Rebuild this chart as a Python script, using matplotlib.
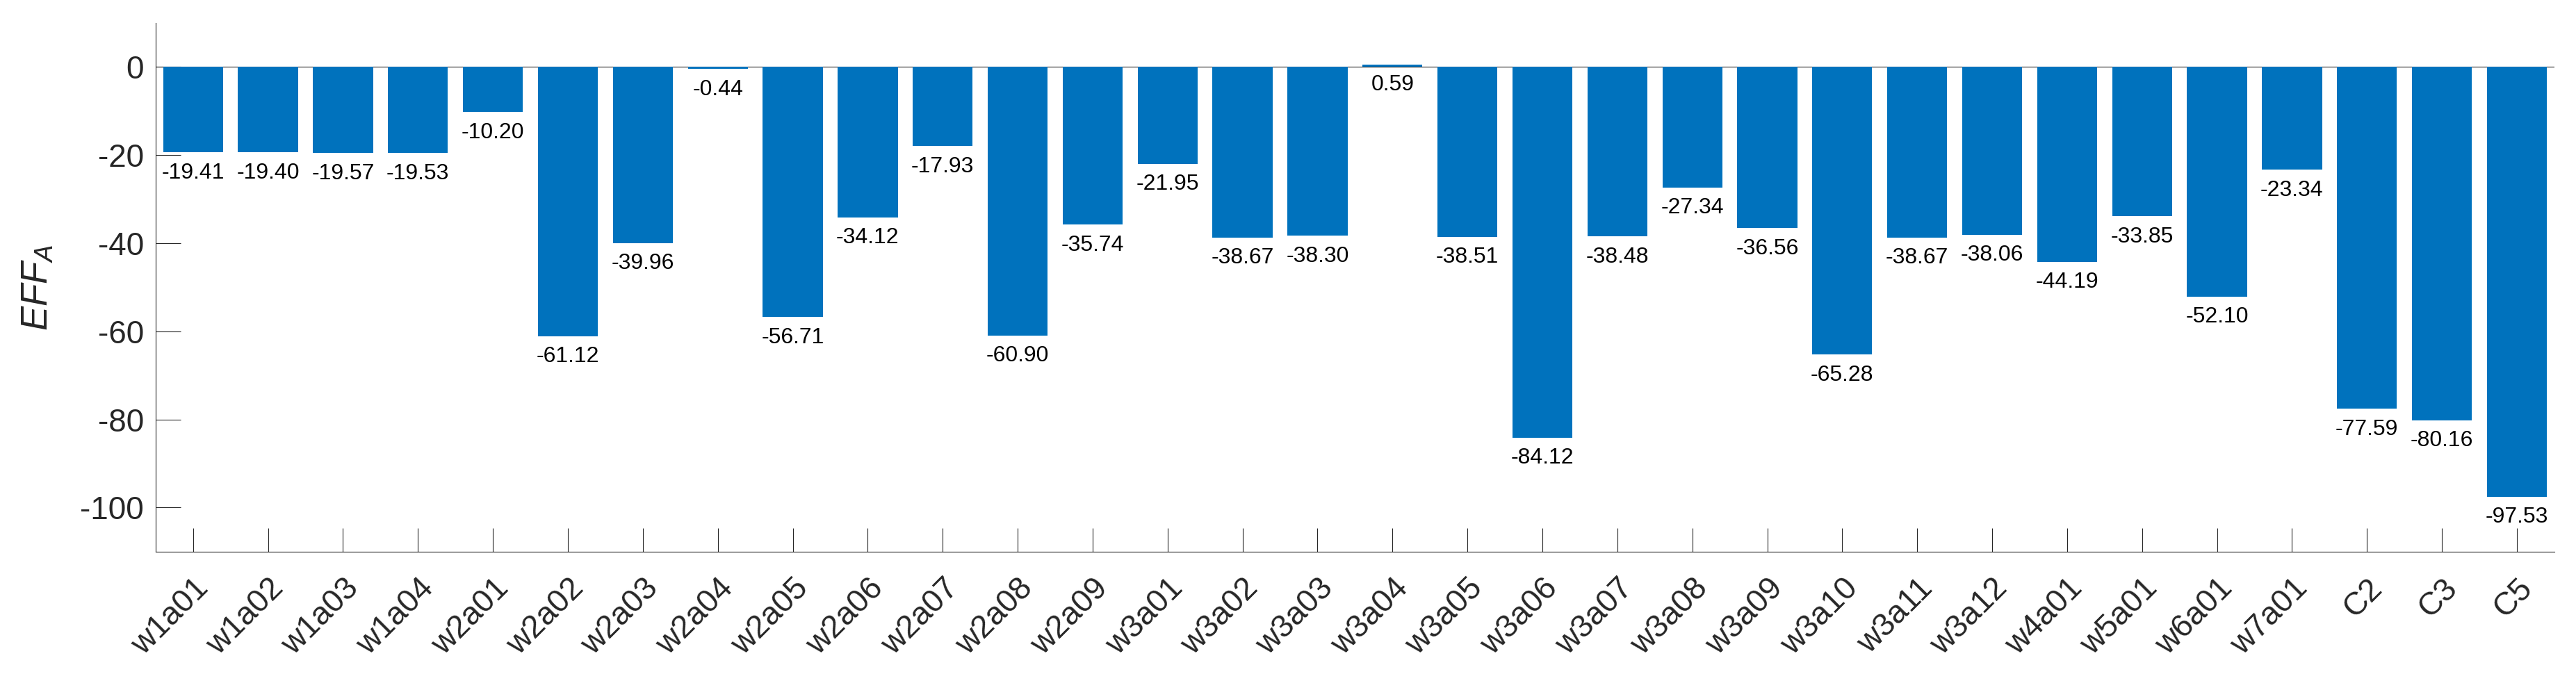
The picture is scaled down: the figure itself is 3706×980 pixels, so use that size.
import numpy as np
import matplotlib
matplotlib.use("Agg")
import matplotlib.pyplot as plt

plt.rcParams['font.family'] = ['Liberation Sans', 'DejaVu Sans']
plt.rcParams['mathtext.fontset'] = 'custom'
plt.rcParams['mathtext.it'] = 'Liberation Sans:italic'
plt.rcParams['mathtext.rm'] = 'Liberation Sans'

categories = ["w1a01", "w1a02", "w1a03", "w1a04",
              "w2a01", "w2a02", "w2a03", "w2a04", "w2a05", "w2a06", "w2a07", "w2a08", "w2a09",
              "w3a01", "w3a02", "w3a03", "w3a04", "w3a05", "w3a06", "w3a07", "w3a08",
              "w3a09", "w3a10", "w3a11", "w3a12",
              "w4a01", "w5a01", "w6a01", "w7a01", "C2", "C3", "C5"]
eff_a = [-19.41, -19.40, -19.57, -19.53,
         -10.20, -61.12, -39.96, -0.44, -56.71, -34.12, -17.93, -60.90, -35.74,
         -21.95, -38.67, -38.30, 0.59, -38.51, -84.12, -38.48, -27.34,
         -36.56, -65.28, -38.67, -38.06,
         -44.19, -33.85, -52.10, -23.34, -77.59, -80.16, -97.53]
yticks = [-100, -80, -60, -40, -20, 0]

axc = '#262626'

fig = plt.figure(figsize=(37.06, 9.8), dpi=100)
ax = fig.add_axes([0.0604, 0.190, 0.9312, 0.7763])

x = np.arange(len(categories))
ax.axhline(0, color=axc, lw=0.8, zorder=1)
ax.bar(x, eff_a, width=0.8, color='#0072BD', zorder=2)

# value labels, placed just under the bar end (MATLAB style)
for xi, v in zip(x, eff_a):
    ax.text(xi, v - 2.3, f"{v:.2f}", ha='center', va='top', fontsize=23, color='black')

ax.set_xlim(-0.5, len(categories) - 0.5)
ax.set_ylim(-110, 10)
ax.set_yticks(yticks)
ax.set_yticklabels([str(t) for t in yticks])
ax.set_xticks(x)
ax.set_xticklabels(categories, rotation=45, ha='right', rotation_mode='anchor')

for s in ['top', 'right']:
    ax.spines[s].set_visible(False)
for s in ['left', 'bottom']:
    ax.spines[s].set_color(axc)
    ax.spines[s].set_linewidth(0.8)

ax.tick_params(axis='y', direction='in', length=26, width=0.8, colors=axc, labelsize=33, pad=12)
ax.tick_params(axis='x', direction='in', length=24.5, width=0.8, colors=axc, labelsize=33, pad=22)

ax.set_ylabel(r'$EFF_A$', fontsize=38, color=axc, labelpad=26)

fig.savefig("out.png", dpi=100)
